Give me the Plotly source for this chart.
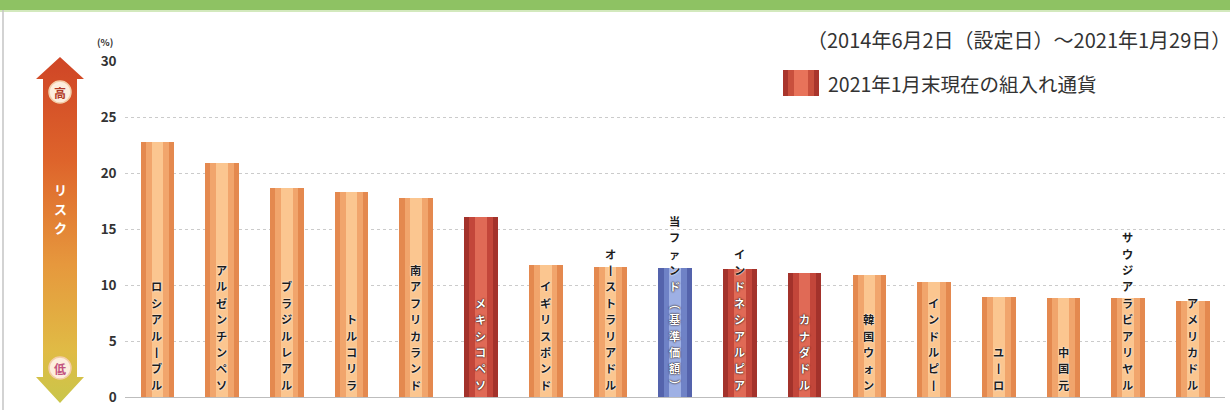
import plotly.graph_objects as go

# ---------------- data ----------------
categories = [
    "ロシアルーブル", "アルゼンチンペソ", "ブラジルレアル", "トルコリラ", "南アフリカランド",
    "メキシコペソ", "イギリスポンド", "オーストラリアドル", "当ファンド(基準価額)", "インドネシアルピア",
    "カナダドル", "韓国ウォン", "インドルピー", "ユーロ", "中国元", "サウジアラビアリヤル", "アメリカドル",
]
risk_values = [22.8, 20.9, 18.7, 18.3, 17.8, 16.1, 11.8, 11.6, 11.5, 11.4,
               11.1, 10.9, 10.3, 8.9, 8.8, 8.8, 8.6]
# 'held' = 2021年1月末現在の組入れ通貨, 'fund' = 当ファンド, 'other' = その他
kinds = ["other", "other", "other", "other", "other", "held", "other", "other", "fund", "held",
         "held", "other", "other", "other", "other", "other", "other"]
y_ticks = [0, 5, 10, 15, 20, 25, 30]
period_text = "（2014年6月2日（設定日）～2021年1月29日）"
legend_text = "2021年1月末現在の組入れ通貨"
unit_text = "(%)"
risk_text = "リスク"

# ---------------- styling ----------------
W, H = 1230, 410
PAL = {
    "other": ("#e4894f", "#f1a56c", "#fbc690"),
    "held": ("#a3322b", "#c3463a", "#e06a56"),
    "fund": ("#5463ac", "#6f82c6", "#9eb0e4"),
}
FONT = "Noto Sans CJK JP"
LBL_SIZE = 11.2
LBL_PITCH = 16.4
Y_TOP_PX, Y_BOT_PX = 61, 397
PX_PER_UNIT = (Y_BOT_PX - Y_TOP_PX) / 30.0


def px(x):
    return x / W


def py(y):
    return 1 - y / H


VREP = {"ー": "丨", "(": "︵", ")": "︶"}
DARK = ("#1c1c1c", "0 0 2px #ffffff, 0 0 1px #ffffff")
LIGHT = ("#ffffff", "0 0 2px #2a1010, 0 0 1px #000000")

fig = go.Figure()

# cylinder-like bars: three overlaid layers drawn from the same values
for layer, wfrac in enumerate([0.52, 0.36, 0.18]):
    fig.add_trace(go.Bar(
        x=categories, y=risk_values, width=wfrac,
        marker=dict(color=[PAL[k][layer] for k in kinds], line=dict(width=0)),
        hoverinfo="skip" if layer else "x+y", showlegend=False,
    ))

# vertical (tategaki) category labels inside the bars, one glyph per row
for cat, kind, val in zip(categories, kinds, risk_values):
    n = len(cat)
    bar_px = val * PX_PER_UNIT
    for i, ch in enumerate(cat):
        shift = 4 + LBL_PITCH * (n - 1 - i) + LBL_PITCH / 2
        col, sh = DARK if (kind == "other" or shift > bar_px - 2) else LIGHT
        fig.add_annotation(
            x=cat, y=0, xref="x", yref="y", yanchor="middle", yshift=shift,
            text=VREP.get(ch, ch), showarrow=False,
            font=dict(family=FONT, size=LBL_SIZE, color=col, weight=700, shadow=sh),
        )

# risk arrow (decoration) on a pixel-coordinate overlay axis
arrow_x = [60, 84, 77, 77, 84, 60, 36, 43, 43, 36, 60]
arrow_y = [57, 79, 79, 377, 377, 403, 377, 377, 79, 79, 57]
fig.add_trace(go.Scatter(
    x=arrow_x, y=arrow_y, xaxis="x2", yaxis="y2", mode="lines",
    line=dict(width=0), fill="toself", hoverinfo="skip", showlegend=False,
    fillgradient=dict(type="vertical", start=57, stop=403,
                      colorscale=[[0, "#cf4526"], [0.3, "#de642b"], [0.6, "#e6983d"],
                                  [0.85, "#e0bb45"], [1, "#c9c64a"]]),
))

shapes = []
# green banner at top and frame line
shapes.append(dict(type="rect", xref="paper", yref="paper", x0=0, x1=1, y0=py(10), y1=1,
                   fillcolor="#8ec263", line=dict(width=0), layer="below"))
shapes.append(dict(type="rect", xref="paper", yref="paper", x0=0, x1=1, y0=py(12), y1=py(10),
                   fillcolor="#d3e9bd", line=dict(width=0), layer="below"))
shapes.append(dict(type="line", xref="paper", yref="paper", x0=px(3), x1=px(3), y0=0, y1=py(10),
                   line=dict(color="#c4c4c4", width=1.5)))
# circles on the arrow
for cy in (92, 368):
    shapes.append(dict(type="circle", xref="x2", yref="y2", x0=49, x1=71, y0=cy - 11, y1=cy + 11,
                       fillcolor="#fdeede", line=dict(color="#f3cda8", width=1.5)))
# legend key square (gradient imitation)
for (x0, x1, c) in [(783, 819, "#a9352c"), (788, 814, "#c9503d"), (794, 808, "#e8735a")]:
    shapes.append(dict(type="rect", xref="paper", yref="paper", x0=px(x0), x1=px(x1),
                       y0=py(96), y1=py(70), fillcolor=c, line=dict(width=0)))

annotations = [
    dict(x=60, y=92, xref="x2", yref="y2", text="高", showarrow=False,
         font=dict(family=FONT, size=12, color="#b23a27", weight=700)),
    dict(x=60, y=368, xref="x2", yref="y2", text="低", showarrow=False,
         font=dict(family=FONT, size=12, color="#c25480", weight=700)),
    dict(x=px(1233), y=py(40), xref="paper", yref="paper", xanchor="right", yanchor="middle",
         text=period_text, showarrow=False,
         font=dict(family=FONT, size=20, color="#333333")),
    dict(x=px(826), y=py(84), xref="paper", yref="paper", xanchor="left", yanchor="middle",
         text=legend_text, showarrow=False,
         font=dict(family=FONT, size=19.5, color="#333333")),
    dict(x=px(105), y=py(42), xref="paper", yref="paper", xanchor="center", yanchor="middle",
         text=unit_text, showarrow=False,
         font=dict(family=FONT, size=9.5, color="#333333", weight=700)),
]
for i, ch in enumerate(risk_text):
    annotations.append(dict(x=60, y=189 + 19 * i, xref="x2", yref="y2", text=ch, showarrow=False,
                            font=dict(family=FONT, size=13, color="#ffffff", weight=700)))
for a in annotations:
    fig.add_annotation(**a)

fig.update_layout(
    width=W, height=H, margin=dict(l=0, r=0, t=0, b=0),
    paper_bgcolor="#ffffff", plot_bgcolor="rgba(0,0,0,0)",
    barmode="overlay", bargap=0, showlegend=False,
    shapes=shapes,
    xaxis=dict(domain=[px(124.6), px(1225)], range=[-0.5, len(categories) - 0.5],
               showticklabels=False, showgrid=False, zeroline=False, showline=False,
               fixedrange=True),
    yaxis=dict(domain=[py(Y_BOT_PX), py(Y_TOP_PX)], range=[0, 30], tickvals=y_ticks,
               showgrid=True, gridcolor="#cbcbcb", griddash="dot", gridwidth=1,
               zeroline=True, zerolinecolor="#bdbdbd", zerolinewidth=1,
               showline=False, ticks="", ticklabelstandoff=7, automargin=False,
               tickfont=dict(family=FONT, size=13.5, color="#333333", weight=700),
               fixedrange=True),
    xaxis2=dict(domain=[0, 1], range=[0, W], anchor="y2", visible=False, fixedrange=True),
    yaxis2=dict(domain=[0, 1], range=[H, 0], anchor="x2", visible=False, fixedrange=True),
)

fig.write_html("out.html", config={"displayModeBar": False},
               post_script="document.body.style.margin='0';document.body.style.overflow='hidden';")
